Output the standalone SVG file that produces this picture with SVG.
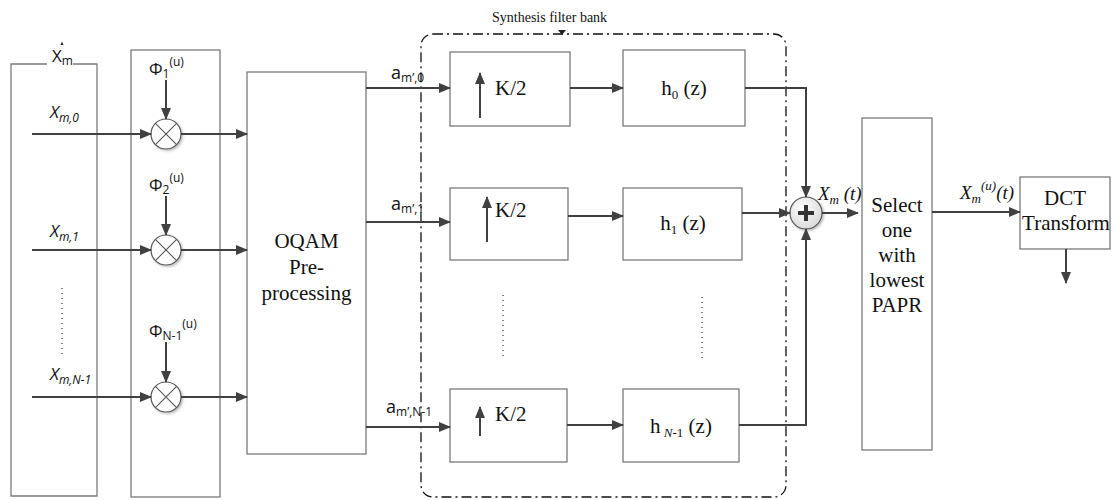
<svg xmlns="http://www.w3.org/2000/svg" width="1112" height="500" viewBox="0 0 1112 500">
  <defs>
    <marker id="arr" markerUnits="userSpaceOnUse" markerWidth="12" markerHeight="10" refX="11" refY="5" orient="auto">
      <path d="M0,0 L12,5 L0,10 z" fill="#404040"/>
    </marker>
    <radialGradient id="sumFill" cx="0.4" cy="0.35" r="0.7">
      <stop offset="0" stop-color="#ffffff"/>
      <stop offset="1" stop-color="#d8d8d8"/>
    </radialGradient>
    <filter id="shadow" x="-30%" y="-30%" width="170%" height="170%">
      <feDropShadow dx="1.5" dy="1.5" stdDeviation="1.2" flood-color="#000" flood-opacity="0.25"/>
    </filter>
    <style>
      .box { fill: #ffffff; stroke: #7a7a7a; stroke-width: 1.3; }
      .frame { fill: none; stroke: #7a7a7a; stroke-width: 1.3; }
      .arrow { fill: none; stroke: #404040; stroke-width: 2; marker-end: url(#arr); }
      .mult { fill: #ffffff; stroke: #555; stroke-width: 1.2; filter: url(#shadow); }
      .cross { stroke: #555; stroke-width: 1.1; }
      .dots { stroke: #333; stroke-width: 1.2; stroke-dasharray: 1,4; }
      .sans { font-family: "Open Sans", "Liberation Sans", sans-serif; fill: #111; }
      .serif { font-family: "Liberation Serif", "Times New Roman", serif; fill: #111; }
      .bank { fill: none; stroke: #111; stroke-width: 1.3; stroke-dasharray: 10,4,2,4; }
    </style>
  </defs>

  <!-- Symbol vector input block -->
  <g id="input-block">
    <path class="frame" d="M47,64 H11 V496 H97 V64 H73"/>
    <text class="sans" x="52" y="62" font-size="17">X<tspan font-size="12" dy="3">m</tspan></text>
    <!-- hat accent over X -->
    <path d="M60.5,45 L62,41.5 L63.5,45 z" fill="#222"/>
    <text class="sans" x="50" y="118" font-size="17" font-style="italic">X<tspan font-size="12" dy="4">m,0</tspan></text>
    <text class="sans" x="50" y="237" font-size="17" font-style="italic">X<tspan font-size="12" dy="4">m,1</tspan></text>
    <text class="sans" x="50" y="380" font-size="17" font-style="italic">X<tspan font-size="12" dy="4">m,N-1</tspan></text>
    <line class="dots" x1="62" y1="288" x2="62" y2="354"/>
  </g>

  <!-- Phase rotation block -->
  <g id="phase-block">
    <rect class="frame" x="131" y="50" width="89" height="447"/>
    <text class="sans" x="149" y="75" font-size="17">Φ<tspan font-size="12" dy="3">1</tspan><tspan font-size="12" dy="-12">(u)</tspan></text>
    <text class="sans" x="149" y="191" font-size="17">Φ<tspan font-size="12" dy="3">2</tspan><tspan font-size="12" dy="-12">(u)</tspan></text>
    <text class="sans" x="149" y="337" font-size="17">Φ<tspan font-size="12" dy="3">N-1</tspan><tspan font-size="12" dy="-12">(u)</tspan></text>
  </g>

  <g id="mult-0">
    <circle class="mult" cx="166" cy="134" r="15"/>
    <path class="cross" d="M155.4,123.4 L176.6,144.6 M176.6,123.4 L155.4,144.6"/>
  </g>
  <g id="mult-1">
    <circle class="mult" cx="166" cy="250" r="15"/>
    <path class="cross" d="M155.4,239.4 L176.6,260.6 M176.6,239.4 L155.4,260.6"/>
  </g>
  <g id="mult-n1">
    <circle class="mult" cx="166" cy="397" r="15"/>
    <path class="cross" d="M155.4,386.4 L176.6,407.6 M176.6,386.4 L155.4,407.6"/>
  </g>

  <!-- OQAM pre-processing -->
  <g id="oqam">
    <rect class="box" x="247" y="72" width="119" height="382"/>
    <g class="serif" font-family="Liberation Serif, Times New Roman, serif" font-size="21" text-anchor="middle">
      <text x="306.5" y="248">OQAM</text>
      <text x="306.5" y="274">Pre-</text>
      <text x="306.5" y="300">processing</text>
    </g>
  </g>

  <!-- Synthesis filter bank frame -->
  <g id="filter-bank">
    <rect class="bank" x="421" y="34" width="365" height="463" rx="12" ry="12"/>
    <text class="serif" x="492" y="22" font-size="14">Synthesis filter bank</text>
    <path d="M558,30 L566,30 L562,35 z" fill="#222"/>
    <line class="dots" x1="503" y1="295" x2="503" y2="360"/>
    <line class="dots" x1="702" y1="297" x2="702" y2="360"/>
  </g>

  <!-- Upsamplers -->
  <g id="up-0">
    <rect class="box" x="450" y="52" width="120" height="74"/>
    <line class="arrow" x1="480" y1="118" x2="480" y2="73"/>
    <text class="serif" font-family="Liberation Serif, serif" x="495" y="95" font-size="21">K/2</text>
  </g>
  <g id="up-1">
    <rect class="box" x="450" y="188" width="118" height="72"/>
    <line class="arrow" x1="487" y1="242" x2="487" y2="197"/>
    <text class="serif" font-family="Liberation Serif, serif" x="495" y="217" font-size="21">K/2</text>
  </g>
  <g id="up-n1">
    <rect class="box" x="450" y="389" width="117" height="73"/>
    <line class="arrow" x1="480" y1="436" x2="480" y2="407"/>
    <text class="serif" font-family="Liberation Serif, serif" x="495" y="421" font-size="21">K/2</text>
  </g>

  <!-- Polyphase filters -->
  <g id="h-0">
    <rect class="box" x="623" y="50" width="122" height="76"/>
    <text class="serif" font-family="Liberation Serif, serif" x="684" y="95" font-size="21" text-anchor="middle">h<tspan font-size="13" dy="4">0</tspan><tspan dy="-4">  (z)</tspan></text>
  </g>
  <g id="h-1">
    <rect class="box" x="623" y="188" width="119" height="72"/>
    <text class="serif" font-family="Liberation Serif, serif" x="683" y="230" font-size="21" text-anchor="middle">h<tspan font-size="13" dy="4">1</tspan><tspan dy="-4">  (z)</tspan></text>
  </g>
  <g id="h-n1">
    <rect class="box" x="623" y="389" width="116" height="73"/>
    <text class="serif" font-family="Liberation Serif, serif" x="681" y="433" font-size="21" text-anchor="middle">h<tspan font-size="13" font-style="italic" dy="4"> N</tspan><tspan font-size="13" dy="0">-1</tspan><tspan dy="-4"> (z)</tspan></text>
  </g>

  <!-- Summation -->
  <g id="sum">
    <circle cx="806" cy="213" r="16" fill="url(#sumFill)" stroke="#555" stroke-width="1.2" filter="url(#shadow)"/>
    <path d="M798,213 H814 M806,205 V221" stroke="#333" stroke-width="4"/>
  </g>

  <!-- Selection -->
  <g id="select">
    <text class="serif" x="818" y="200" font-size="19" font-style="italic">X<tspan font-size="13" dy="4">m</tspan><tspan dy="-4"> (t)</tspan></text>
    <rect class="box" x="862" y="118" width="70" height="332"/>
    <g class="serif" font-family="Liberation Serif, serif" font-size="21" text-anchor="middle">
      <text x="897" y="212">Select</text>
      <text x="897" y="237">one</text>
      <text x="897" y="262">with</text>
      <text x="897" y="287">lowest</text>
      <text x="897" y="312">PAPR</text>
    </g>
  </g>

  <!-- DCT -->
  <g id="dct">
    <rect class="box" x="1020" y="177" width="90" height="72"/>
    <g class="serif" font-family="Liberation Serif, serif" font-size="21" text-anchor="middle">
      <text x="1065" y="205">DCT</text>
      <text x="1066" y="230">Transform</text>
    </g>
  </g>

  <!-- Connectors -->
  <g id="connectors">
    <!-- inputs into multipliers -->
    <line class="arrow" x1="32" y1="134" x2="151" y2="134"/>
    <line class="arrow" x1="32" y1="250" x2="151" y2="250"/>
    <line class="arrow" x1="32" y1="397" x2="151" y2="397"/>
    <!-- phase factors -->
    <line class="arrow" x1="166" y1="80" x2="166" y2="119"/>
    <line class="arrow" x1="166" y1="196" x2="166" y2="235"/>
    <line class="arrow" x1="166" y1="342" x2="166" y2="382"/>
    <!-- multipliers to OQAM -->
    <line class="arrow" x1="181" y1="134" x2="247" y2="134"/>
    <line class="arrow" x1="181" y1="250" x2="247" y2="250"/>
    <line class="arrow" x1="181" y1="397" x2="247" y2="397"/>
    <!-- OQAM outputs -->
    <line class="arrow" x1="366" y1="88" x2="450" y2="88"/>
    <line class="arrow" x1="366" y1="222" x2="450" y2="222"/>
    <line class="arrow" x1="366" y1="427" x2="450" y2="427"/>
    <!-- upsamplers to filters -->
    <line class="arrow" x1="570" y1="88" x2="623" y2="88"/>
    <line class="arrow" x1="568" y1="216" x2="623" y2="216"/>
    <line class="arrow" x1="567" y1="425" x2="623" y2="425"/>
    <!-- filters to summation -->
    <path class="arrow" d="M745,88 H806 V197"/>
    <line class="arrow" x1="742" y1="213" x2="790" y2="213"/>
    <path class="arrow" d="M739,425 H806 V229"/>
    <!-- summation to selection -->
    <line class="arrow" x1="822" y1="213" x2="858" y2="213"/>
    <!-- selection to DCT -->
    <line class="arrow" x1="932" y1="212" x2="1020" y2="212"/>
    <line class="arrow" x1="1066" y1="249" x2="1066" y2="283"/>
  </g>

  <!-- signal labels -->
  <g id="labels">
    <text class="sans" x="391" y="79" font-size="18">a<tspan font-size="12" dy="3">m’,0</tspan></text>
    <text class="sans" x="391" y="210" font-size="18">a<tspan font-size="12" dy="3">m’,1</tspan></text>
    <text class="sans" x="386" y="413" font-size="18">a<tspan font-size="12" dy="3">m’,N-1</tspan></text>
    <text class="serif" x="960" y="199" font-size="19" font-style="italic">X<tspan font-size="13" dy="4">m</tspan><tspan font-size="13" dy="-13">(u)</tspan><tspan dy="9">(t)</tspan></text>
  </g>
</svg>
